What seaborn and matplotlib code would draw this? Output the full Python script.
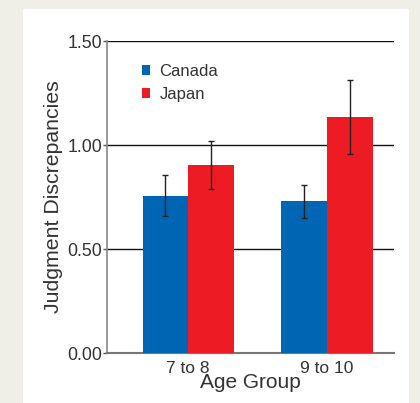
import matplotlib
matplotlib.use("Agg")
import matplotlib.pyplot as plt
import seaborn as sns
import pandas as pd
from matplotlib.patches import Rectangle

age_groups = ["7 to 8", "9 to 10"]
countries = ["Canada", "Japan"]
canada_means = [0.757, 0.730]
japan_means = [0.902, 1.133]
canada_err = [0.098, 0.080]
japan_err = [0.115, 0.178]
y_ticks = [0.0, 0.5, 1.0, 1.5]
y_tick_labels = ["0.00", "0.50", "1.00", "1.50"]

colors = {"Canada": "#0066b3", "Japan": "#ed1c24"}

df = pd.DataFrame({
    "Age Group": age_groups * 2,
    "Country": ["Canada"] * 2 + ["Japan"] * 2,
    "Value": canada_means + japan_means,
    "Err": canada_err + japan_err,
})

sns.set_style("white")
plt.rcParams["font.family"] = ["Liberation Sans", "DejaVu Sans"]

fig = plt.figure(figsize=(4.2, 4.03), dpi=100, facecolor="#efefe8")
fig.patches.append(Rectangle((23 / 420, 0), (409 - 23) / 420, (403 - 9) / 403,
                             transform=fig.transFigure, facecolor="white",
                             edgecolor="none", zorder=-10))
ax = fig.add_axes([107 / 420, 50 / 403, 287 / 420, 312 / 403])
ax.set_facecolor("none")

sns.barplot(data=df, x="Age Group", y="Value", hue="Country", order=age_groups,
            hue_order=countries, palette=colors, width=0.655, errorbar=None,
            saturation=1, ax=ax, zorder=3, linewidth=0)

# error bars placed at bar centres
for cont, country in zip(ax.containers, countries):
    sub = df[df["Country"] == country].set_index("Age Group").loc[age_groups]
    xs = [p.get_x() + p.get_width() / 2 for p in cont.patches]
    ax.errorbar(xs, sub["Value"], yerr=sub["Err"], fmt="none", ecolor="#222222",
                elinewidth=1.0, capsize=2.5, capthick=1.0, zorder=4)

ax.set_ylim(0, 1.5)
ax.set_xlim(-0.583, 1.482)
ax.set_yticks(y_ticks)
ax.set_yticklabels(y_tick_labels)
for y in y_ticks[1:]:
    ax.axhline(y, color="#111111", linewidth=1.0, zorder=1)

for s in ["top", "right"]:
    ax.spines[s].set_visible(False)
ax.spines["left"].set_color("#888888")
ax.spines["bottom"].set_color("#777777")
ax.spines["left"].set_linewidth(1.2)
ax.spines["bottom"].set_linewidth(1.5)

ax.tick_params(axis="y", left=True, length=3, width=1, color="#555555",
               labelsize=12.8, labelcolor="#333333", pad=0.5)
ax.tick_params(axis="x", bottom=False, labelsize=12.5, labelcolor="#333333", pad=2)

ax.set_xlabel("Age Group", fontsize=15, color="#333333", labelpad=-2)
ax.set_ylabel("Judgment Discrepancies", fontsize=15.3, color="#333333", labelpad=3)

leg = ax.legend(loc="upper left", bbox_to_anchor=(0.07, 0.975), frameon=False,
                fontsize=12, handlelength=0.5, handleheight=0.5,
                handletextpad=0.55, labelspacing=0.5, labelcolor="#333333")

fig.savefig("out.png", dpi=100, facecolor=fig.get_facecolor())
